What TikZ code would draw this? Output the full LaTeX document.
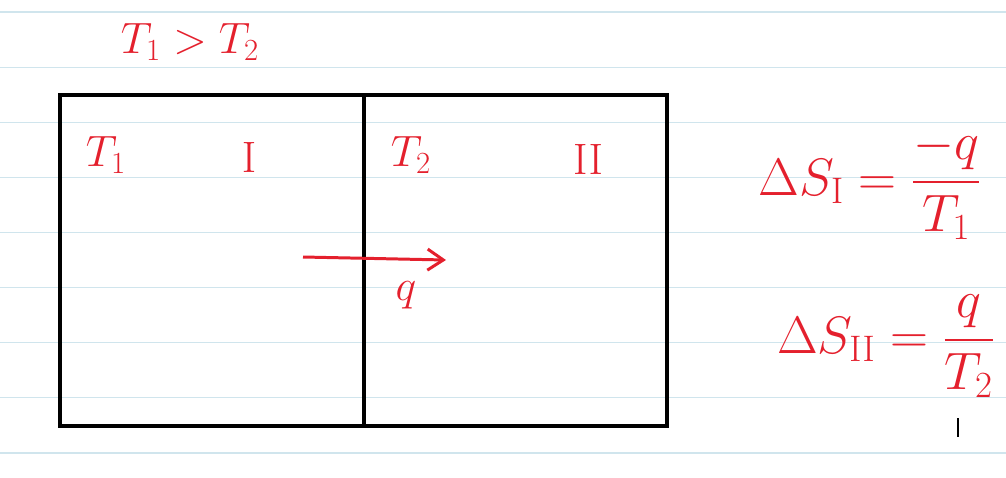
\documentclass[tikz,border=0pt]{standalone}
\usepackage{fix-cm}
\usepackage{amsmath}
\usetikzlibrary{positioning, arrows.meta}
\definecolor{ink}{RGB}{228,32,45}
\definecolor{ruling}{RGB}{208,229,237}

\begin{document}
\begin{tikzpicture}[x = 0.02cm, y = -0.02cm,
    pen/.style = { text = ink, inner sep = 0pt,
      font = \fontsize{25}{30}\selectfont },
    bigpen/.style = { pen, font = \fontsize{30}{36}\selectfont },
    cell/.style = { rectangle, draw, line width = 2.3pt, outer sep = 0pt,
      minimum height = 6.62cm, anchor = center },
    flow/.style = { draw = ink, line width = 1.7pt, -{Straight Barb[length = 9pt, width = 12pt]} }
  ]
  \useasboundingbox (0,0) rectangle (1006,477);
  % ruled paper
  \foreach \i in {0,...,8}
    \draw [ruling, line width = 0.6pt] (0, 12 + 55.125*\i) -- (1006, 12 + 55.125*\i);

  % the two systems
  \node (cellI) [cell, minimum width = 6.08cm] at (212, 260.5) {};
  \node (cellII) [cell, minimum width = 6.06cm, right = 0pt of cellI] {};

  \node (cond) [pen] at (190, 42) {$T_1 > T_2$};
  \node (tI) [pen] at (106, 155) {$T_1$};
  \node (nameI) [pen] at (249, 157) {$\mathrm{I}$};
  \node (tII) [pen] at (411, 155) {$T_2$};
  \node (nameII) [pen] at (588, 159) {$\mathrm{II}$};

  % heat flow across the wall
  \coordinate (qtail) at (303, 257);
  \coordinate (qhead) at (446, 260);
  \draw [flow] (qtail) -- node [pen, pos = 0.72, below = 12pt] {$q$} (qhead);

  % entropy changes
  \node (dsI) [bigpen] at (870, 184) {$\Delta S_{\mathrm{I}} = \dfrac{-q}{T_1}$};
  \node (dsII) [bigpen] at (886, 346) {$\Delta S_{\mathrm{II}} = \dfrac{q}{T_2}$};

  \draw [line width = 0.8pt] (958, 418) -- (958, 437);
\end{tikzpicture}
\end{document}
